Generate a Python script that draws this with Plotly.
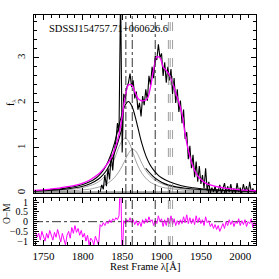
import numpy as np
import plotly.graph_objects as go
from plotly.subplots import make_subplots

# ---------------- data ----------------
obj_name = "SDSSJ154757.71+060626.6"

# observed spectrum (2 A steps, 1822..2020)
obs_start, obs_step = 1822, 2
obs_flux = [0.02, 0.18, 0.08, 0.40, 0.15, 0.55, 0.30, 0.85, 0.50, 0.95,
            1.15, 1.55, 1.35, 4.50, 0.90, 2.20, 2.10, 2.35, 2.45, 2.65,
            2.35, 2.50, 2.10, 2.25, 1.85, 2.00, 1.70, 2.15, 1.95, 2.30,
            2.05, 2.60, 2.40, 2.80, 2.55, 3.05, 2.95, 3.30, 3.00, 3.10,
            2.60, 2.90, 2.45, 2.80, 2.50, 2.75, 2.20, 2.55, 2.00, 2.30,
            1.80, 2.05, 1.55, 1.85, 1.20, 1.35, 0.75, 1.05, 0.55, 0.85,
            0.35, 0.70, 0.25, 0.60, 0.20, 0.40, 0.10, 0.55, 0.05, 0.25,
            0.00, 0.12, 0.02, 0.15, 0.00, 0.05, 0.18, 0.00, 0.10, 0.22,
            0.00, 0.15, 0.02, 0.20, 0.00, 0.10, 0.00, 0.22, 0.02, 0.12,
            0.00, 0.20, 0.03, 0.15, 0.00, 0.25, 0.02, 0.10, 0.00, 0.05]

# total model (magenta)
model_wl = [1738, 1750, 1760, 1770, 1780, 1790, 1800, 1810, 1820, 1830,
            1836, 1842, 1846, 1850, 1854, 1858, 1862, 1866, 1870, 1874,
            1878, 1882, 1886, 1890, 1894, 1898, 1902, 1906, 1910, 1914,
            1918, 1922, 1926, 1930, 1934, 1938, 1942, 1946, 1950, 1956,
            1962, 1970, 1980, 1990, 2000, 2010, 2020]
model_flux = [0.06, 0.07, 0.09, 0.11, 0.14, 0.17, 0.22, 0.30, 0.42, 0.62,
              0.78, 1.05, 1.30, 1.70, 2.15, 2.40, 2.40, 2.25, 2.10, 2.05,
              2.05, 2.10, 2.35, 2.75, 3.02, 3.00, 2.80, 2.72, 2.62, 2.45,
              2.22, 2.02, 1.75, 1.30, 0.95, 0.68, 0.50, 0.38, 0.30, 0.22,
              0.18, 0.14, 0.11, 0.09, 0.07, 0.06, 0.05]

# components
comp_wl = [1738, 1750, 1760, 1770, 1780, 1790, 1800, 1810, 1815, 1820,
           1825, 1830, 1835, 1840, 1845, 1850, 1854, 1858, 1862, 1866,
           1870, 1875, 1880, 1885, 1890, 1895, 1900, 1910, 1920, 1930,
           1940, 1950, 1960, 1970, 1980, 1990, 2000, 2010, 2020]
alIII_a = [0.03, 0.035, 0.045, 0.055, 0.07, 0.09, 0.12, 0.17, 0.20, 0.25,
           0.32, 0.42, 0.56, 0.75, 0.98, 1.16, 1.22, 1.15, 0.98, 0.78,
           0.60, 0.44, 0.33, 0.25, 0.20, 0.16, 0.13, 0.10, 0.08, 0.06,
           0.05, 0.04, 0.035, 0.03, 0.027, 0.024, 0.022, 0.02, 0.018]
alIII_b = [0.02, 0.025, 0.03, 0.035, 0.045, 0.055, 0.07, 0.09, 0.11, 0.13,
           0.16, 0.20, 0.26, 0.34, 0.45, 0.60, 0.74, 0.88, 0.96, 0.95,
           0.85, 0.66, 0.50, 0.39, 0.31, 0.25, 0.21, 0.15, 0.11, 0.085,
           0.068, 0.056, 0.047, 0.04, 0.035, 0.031, 0.028, 0.025, 0.023]
alIII_sum = [0.05, 0.06, 0.075, 0.09, 0.115, 0.145, 0.19, 0.26, 0.31, 0.38,
             0.48, 0.62, 0.82, 1.09, 1.43, 1.76, 1.96, 2.03, 1.94, 1.73,
             1.45, 1.10, 0.83, 0.64, 0.51, 0.41, 0.34, 0.25, 0.19, 0.145,
             0.118, 0.096, 0.082, 0.07, 0.062, 0.055, 0.05, 0.045, 0.041]
broad_wl = [1738, 1760, 1780, 1800, 1810, 1820, 1825, 1830, 1835, 1840,
            1845, 1850]
broad_flux = [0.04, 0.06, 0.09, 0.15, 0.21, 0.31, 0.39, 0.50, 0.66, 0.88,
              1.15, 1.45]
broad_r_wl = [1880, 1890, 1900, 1910, 1920, 1930, 1940, 1960, 1980, 2000, 2020]
broad_r_flux = [0.55, 0.36, 0.24, 0.17, 0.13, 0.105, 0.09, 0.07, 0.055, 0.045, 0.04]

# residuals (O-M), 2 A steps 1740..2020
res_start, res_step = 1740, 2
residual = [-0.55, -0.80, -0.60, -0.95, -0.50, -0.75, -1.00, -0.60, -0.85, -0.45,
            -0.70, -0.95, -0.55, -0.80, -0.40, -0.75, -1.05, -0.60, -0.90, -1.20,
            -0.70, -0.50, -0.85, -0.30, -0.60, -0.20, -0.55, -0.35, -0.70, -0.45,
            -0.80, -0.60, -1.00, -0.70, -1.20, -0.85, -0.95, -1.20, -0.75, -1.00,
            -1.20, -0.15, -0.25, -0.05, -0.20, 0.00, -0.10, 0.10, -0.05, 0.15,
            0.05, 0.20, 0.10, 0.30, 2.50, -2.00, 0.05, -0.10, 0.10, 0.00,
            0.20, -0.05, 0.10, -0.15, 0.05, -0.20, 0.00, -0.25, 0.10, -0.10,
            0.15, -0.05, 0.25, 0.00, 0.10, -0.20, 0.05, -0.10, 0.30, 0.00,
            0.15, -0.25, 0.10, -0.20, 0.20, -0.10, 0.30, -0.15, 0.15, -0.20,
            0.05, -0.15, 0.10, -0.10, 0.25, -0.05, 0.35, -0.10, 0.20, -0.10,
            0.15, -0.15, 0.30, -0.05, 0.20, -0.10, 0.10, -0.20, 0.25, -0.05,
            0.05, -0.25, -0.10, -0.35, -0.15, -0.40, -0.20, -0.50, -0.25, -0.10,
            -0.35, 0.00, -0.20, 0.10, -0.15, 0.05, -0.25, 0.00, -0.10, 0.15,
            -0.20, 0.05, -0.15, 0.10, -0.25, 0.00, -0.10, 0.15, -0.30, -0.05,
            -0.20]

line_black = [1854.7, 1862.8, 1892.0]
line_gray = [1908.7, 1911.0, 1914.0]

x_range = [1738, 2020]
top_yrange = [0, 3.95]
bot_yrange = [-1.2, 1.2]

obs_wl = [obs_start + obs_step * i for i in range(len(obs_flux))]
res_wl = [res_start + res_step * i for i in range(len(residual))]

# ---------------- figure ----------------
FONT = "Liberation Serif"
fig = make_subplots(rows=2, cols=1, shared_xaxes=False, vertical_spacing=0.0)

fig.add_trace(go.Scatter(x=x_range, y=[0.01, 0.01], mode="lines",
                         line=dict(color="#999999", width=2.5), hoverinfo="skip"), 1, 1)
fig.add_trace(go.Scatter(x=comp_wl, y=alIII_a, mode="lines", line_shape="spline",
                         line=dict(color="#8c8c8c", width=0.8)), 1, 1)
fig.add_trace(go.Scatter(x=comp_wl, y=alIII_b, mode="lines", line_shape="spline",
                         line=dict(color="#8c8c8c", width=0.8)), 1, 1)
fig.add_trace(go.Scatter(x=comp_wl, y=alIII_sum, mode="lines", line_shape="spline",
                         line=dict(color="black", width=1.1)), 1, 1)
fig.add_trace(go.Scatter(x=broad_wl, y=broad_flux, mode="lines", line_shape="spline",
                         line=dict(color="black", width=1.1)), 1, 1)
fig.add_trace(go.Scatter(x=broad_r_wl, y=broad_r_flux, mode="lines", line_shape="spline",
                         line=dict(color="black", width=1.1)), 1, 1)
fig.add_trace(go.Scatter(x=obs_wl, y=obs_flux, mode="lines",
                         line=dict(color="black", width=1.1)), 1, 1)
fig.add_trace(go.Scatter(x=model_wl, y=model_flux, mode="lines", line_shape="spline",
                         line=dict(color="#ff00ff", width=1.3)), 1, 1)

fig.add_trace(go.Scatter(x=x_range, y=[0, 0], mode="lines",
                         line=dict(color="black", width=0.8, dash="dashdot")), 2, 1)
fig.add_trace(go.Scatter(x=res_wl, y=residual, mode="lines",
                         line=dict(color="#ff00ff", width=1.0)), 2, 1)

for xr, yr in (("x", "y domain"), ("x2", "y2 domain")):
    for lw in line_black:
        fig.add_shape(type="line", xref=xr, yref=yr, x0=lw, x1=lw, y0=0, y1=1,
                      line=dict(color="black", width=0.8, dash="dashdot"))
    for lw in line_gray:
        fig.add_shape(type="line", xref=xr, yref=yr, x0=lw, x1=lw, y0=0, y1=1,
                      line=dict(color="#888888", width=0.8, dash="dash"))

axis_common = dict(showline=True, linecolor="black", linewidth=1, mirror="allticks",
                   ticks="inside", ticklen=5, tickcolor="black", tickwidth=0.8,
                   showgrid=False, zeroline=False, automargin=False)

fig.update_xaxes(range=x_range, dtick=50, tick0=1750,
                 tickfont=dict(family=FONT, size=11, color="black"),
                 minor=dict(dtick=10, ticks="inside", ticklen=3, tickcolor="black", tickwidth=0.8),
                 **axis_common)
fig.update_xaxes(showticklabels=False, row=1, col=1)
fig.update_xaxes(ticklabelstandoff=1, row=2, col=1)

fig.update_yaxes(range=top_yrange, dtick=1, tick0=0, tickangle=-90, ticklabelstandoff=4,
                 tickfont=dict(family=FONT, size=11, color="black"),
                 minor=dict(dtick=0.2, ticks="inside", ticklen=3, tickcolor="black", tickwidth=0.8),
                 row=1, col=1, **axis_common)
fig.update_yaxes(range=bot_yrange, dtick=0.5, tick0=0, ticklabelstandoff=3,
                 tickfont=dict(family=FONT, size=10, color="black"),
                 minor=dict(dtick=0.1, ticks="inside", ticklen=3, tickcolor="black", tickwidth=0.8),
                 row=2, col=1, **axis_common)

fig.update_layout(
    width=279, height=279,
    margin=dict(l=34, r=23, t=15, b=34),
    paper_bgcolor="white", plot_bgcolor="white",
    showlegend=False,
    font=dict(family=FONT, size=11, color="black"),
)
fig.layout.yaxis.domain = [0.226, 1.0]
fig.layout.yaxis2.domain = [0.0, 0.203]

fig.add_annotation(x=1755, y=3.64, xref="x", yref="y", text=obj_name, showarrow=False,
                   xanchor="left", yanchor="middle",
                   font=dict(family=FONT, size=10.5, color="black"))
fig.add_annotation(x=(145 - 34) / 222, y=(245 - 266) / 230, xref="paper", yref="paper",
                   text="Rest Frame λ[Å]", showarrow=False, xanchor="center", yanchor="middle",
                   font=dict(family=FONT, size=10.5, color="black"))
fig.add_annotation(x=(11 - 34) / 222, y=(245 - 103) / 230, xref="paper", yref="paper",
                   text="f<sub>λ</sub>", showarrow=False, textangle=-90,
                   xanchor="center", yanchor="middle",
                   font=dict(family=FONT, size=10, color="black"))
fig.add_annotation(x=(7 - 34) / 222, y=(245 - 214) / 230, xref="paper", yref="paper",
                   text="O−M", showarrow=False, textangle=-90,
                   xanchor="center", yanchor="middle",
                   font=dict(family=FONT, size=9.5, color="black"))

fig.write_html("out.html", config={"displayModeBar": False},
               post_script="document.body.style.margin='0px';")
